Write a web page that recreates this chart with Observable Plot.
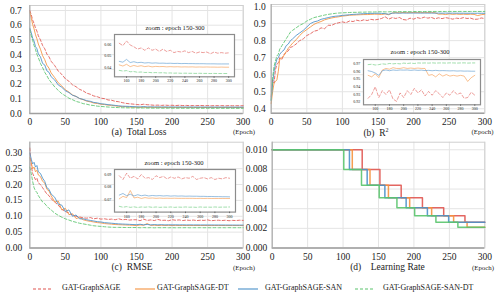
<!DOCTYPE html>
<html><head><meta charset="utf-8">
<script src="https://cdn.jsdelivr.net/npm/d3@7"></script>
<script src="https://cdn.jsdelivr.net/npm/@observablehq/plot@0.6"></script>
<style>
body{margin:0;background:#fff;}
#root{position:relative;width:500px;height:298px;overflow:hidden;font-family:"Liberation Serif","Times New Roman",serif;color:#222;}
.abs{position:absolute;line-height:0;}
.txt{position:absolute;white-space:nowrap;transform:translate(-50%,-50%);line-height:1;}
.ltxt{position:absolute;white-space:nowrap;transform:translate(0,-50%);line-height:1;font-size:8px;}
</style></head><body><div id="root"></div>
<script>
// ---------- data ----------
const epochs = [0,2,4,6,8,10,12,15,18,21,24,27,30,35,40,45,50,55,60,65,70,75,80,85,90,95,100,105,110,115,120,125,130,135,140,145,150,155,160,165,170,175,180,185,190,195,200,205,210,215,220,225,230,235,240,245,250,255,260,265,270,275,280,285,290,295,300];
const seriesNames = ["GAT-GraphSAGE","GAT-GraphSAGE-DT","GAT-GraphSAGE-SAN","GAT-GraphSAGE-SAN-DT"];
const xTicks = [0,50,100,150,200,250,300];
const insetXTicks = [160,180,200,220,240,260,280,300];

// Total loss
const lossRed = [0.700,0.672,0.635,0.612,0.580,0.560,0.528,0.500,0.462,0.440,0.404,0.385,0.355,
0.326,0.288,0.266,0.236,0.219,0.195,0.182,0.164,0.154,0.138,0.131,0.119,0.114,0.104,0.101,0.092,0.090,0.083,0.080,0.074,0.069,0.066,0.064,
0.061,0.059,0.063,0.0595,0.058,0.056,0.057,0.055,0.057,0.055,0.056,0.054,0.056,0.054,0.055,0.053,0.054,0.0535,0.0545,0.053,0.054,0.0525,0.0535,0.053,0.0535,0.052,0.0535,0.0525,0.053,0.0525,0.0528];
const lossOrange = [0.690,0.650,0.605,0.575,0.535,0.508,0.472,0.437,0.393,0.366,0.328,0.308,0.276,
0.244,0.209,0.187,0.161,0.146,0.126,0.116,0.102,0.094,0.084,0.079,0.071,0.068,0.063,0.061,0.057,0.055,0.052,0.049,0.047,0.046,0.044,0.043,
0.0425,0.0415,0.043,0.041,0.042,0.0412,0.0418,0.041,0.0415,0.0408,0.0412,0.041,0.0411,0.0408,0.041,0.0408,0.0409,0.0407,0.0408,0.0407,0.0408,0.0406,0.0407,0.0406,0.0407,0.0406,0.0406,0.0405,0.0406,0.0405,0.0405];
const lossBlue = [0.580,0.550,0.512,0.492,0.455,0.440,0.405,0.385,0.340,0.330,0.290,0.280,0.250,
0.228,0.194,0.178,0.155,0.142,0.124,0.116,0.102,0.096,0.087,0.083,0.075,0.072,0.066,0.064,0.060,0.058,0.055,0.052,0.050,0.049,0.048,0.047,
0.0455,0.0448,0.0472,0.0445,0.0452,0.0444,0.0447,0.0441,0.0444,0.0440,0.0442,0.0439,0.0440,0.0438,0.0439,0.0437,0.0438,0.0436,0.0437,0.0436,0.0436,0.0435,0.0435,0.0435,0.0434,0.0434,0.0434,0.0433,0.0433,0.0433,0.0433];
const lossGreen = [0.570,0.530,0.498,0.462,0.435,0.402,0.380,0.340,0.312,0.280,0.257,0.230,0.212,
0.181,0.157,0.135,0.120,0.104,0.094,0.082,0.076,0.067,0.063,0.057,0.054,0.050,0.048,0.046,0.044,0.0425,0.041,0.040,0.039,0.0386,0.038,0.0378,
0.0378,0.0372,0.0376,0.0366,0.0368,0.0362,0.0364,0.0360,0.0361,0.0358,0.0359,0.0357,0.0358,0.0355,0.0356,0.0354,0.0355,0.0353,0.0354,0.0353,0.0353,0.0352,0.0353,0.0352,0.0352,0.0351,0.0352,0.0351,0.0351,0.0351,0.0351];

// R2
const r2Red = [0.470,0.570,0.550,0.630,0.660,0.670,0.700,0.690,0.720,0.730,0.740,0.760,0.765,
0.780,0.800,0.810,0.830,0.840,0.855,0.860,0.875,0.870,0.890,0.890,0.900,0.905,0.910,0.905,0.915,0.912,0.920,0.915,0.922,0.918,0.925,0.921,
0.925,0.930,0.940,0.926,0.935,0.930,0.936,0.924,0.921,0.932,0.926,0.935,0.930,0.938,0.932,0.936,0.928,0.934,0.929,0.935,0.931,0.926,0.932,0.929,0.935,0.930,0.932,0.925,0.926,0.933,0.929];
const r2Orange = [0.430,0.500,0.550,0.560,0.570,0.620,0.690,0.700,0.712,0.735,0.755,0.770,0.785,
0.805,0.830,0.850,0.865,0.880,0.895,0.905,0.912,0.922,0.928,0.933,0.937,0.940,0.944,0.946,0.949,0.950,0.951,0.952,0.953,0.953,0.954,0.955,
0.955,0.953,0.957,0.952,0.962,0.964,0.963,0.965,0.964,0.964,0.965,0.964,0.9645,0.964,0.9645,0.964,0.964,0.955,0.956,0.953,0.957,0.954,0.956,0.954,0.955,0.954,0.955,0.954,0.947,0.952,0.955];
const r2Blue = [0.450,0.550,0.620,0.660,0.690,0.700,0.720,0.735,0.745,0.770,0.780,0.800,0.810,
0.830,0.845,0.860,0.880,0.900,0.910,0.915,0.925,0.930,0.935,0.940,0.943,0.945,0.948,0.950,0.952,0.954,0.955,0.957,0.958,0.959,0.960,0.960,
0.961,0.960,0.958,0.955,0.961,0.962,0.961,0.962,0.9615,0.962,0.9618,0.962,0.9615,0.962,0.9615,0.9618,0.9612,0.9615,0.961,0.9615,0.961,0.9612,0.961,0.9608,0.961,0.9606,0.9608,0.9605,0.9606,0.9604,0.9604];
const r2Green = [0.450,0.580,0.650,0.680,0.710,0.720,0.750,0.770,0.790,0.810,0.830,0.850,0.860,
0.875,0.890,0.900,0.915,0.925,0.935,0.940,0.945,0.950,0.954,0.957,0.960,0.962,0.963,0.964,0.965,0.966,0.966,0.967,0.967,0.968,0.968,0.968,
0.969,0.9695,0.9685,0.969,0.970,0.9695,0.9705,0.970,0.9705,0.970,0.971,0.9705,0.971,0.9705,0.9712,0.971,0.9712,0.971,0.9713,0.971,0.9712,0.9712,0.971,0.9713,0.9712,0.971,0.9712,0.9713,0.971,0.9712,0.9712];

// RMSE
const rmseRed = [0.315,0.260,0.235,0.225,0.215,0.220,0.205,0.200,0.190,0.180,0.170,0.165,0.155,
0.145,0.135,0.122,0.115,0.110,0.104,0.100,0.098,0.095,0.094,0.096,0.092,0.094,0.091,0.092,0.090,0.091,0.089,0.092,0.089,0.090,0.088,0.089,
0.089,0.086,0.091,0.087,0.0885,0.0865,0.090,0.087,0.0875,0.086,0.089,0.0875,0.0885,0.0865,0.088,0.087,0.088,0.0865,0.0875,0.087,0.0885,0.086,0.087,0.0875,0.0865,0.0875,0.086,0.087,0.0865,0.0875,0.087];
const rmseOrange = [0.285,0.270,0.250,0.255,0.240,0.245,0.230,0.225,0.210,0.205,0.185,0.180,0.165,
0.145,0.148,0.120,0.125,0.105,0.108,0.093,0.096,0.089,0.086,0.084,0.082,0.080,0.079,0.077,0.076,0.075,0.074,0.0735,0.073,0.0725,0.072,0.0715,
0.0705,0.0725,0.0715,0.0772,0.0712,0.0718,0.0708,0.0715,0.071,0.0712,0.0709,0.0711,0.0709,0.071,0.0709,0.071,0.0709,0.0709,0.0709,0.0709,0.0709,0.0708,0.0709,0.0708,0.0709,0.0708,0.0708,0.0708,0.0708,0.0708,0.0708];
const rmseBlue = [0.300,0.280,0.265,0.270,0.255,0.260,0.240,0.235,0.220,0.210,0.190,0.185,0.170,
0.160,0.138,0.135,0.115,0.120,0.100,0.104,0.092,0.092,0.089,0.087,0.085,0.083,0.082,0.080,0.079,0.078,0.077,0.076,0.0755,0.075,0.0745,0.074,
0.0735,0.0748,0.073,0.0742,0.0728,0.0738,0.073,0.0735,0.0728,0.0732,0.0729,0.0731,0.0728,0.073,0.0727,0.0729,0.0727,0.0728,0.0726,0.0727,0.0726,0.0726,0.0725,0.0725,0.0724,0.0724,0.0723,0.0723,0.0722,0.0722,0.0721];
const rmseGreen = [0.255,0.235,0.210,0.190,0.180,0.175,0.165,0.155,0.145,0.140,0.132,0.125,0.120,
0.110,0.103,0.097,0.092,0.088,0.084,0.081,0.078,0.076,0.074,0.072,0.070,0.069,0.068,0.067,0.066,0.0655,0.065,0.065,0.0648,0.0646,0.0645,0.0645,
0.0645,0.0638,0.0643,0.0637,0.0641,0.0636,0.064,0.0638,0.0641,0.0637,0.064,0.0637,0.0639,0.0638,0.064,0.0637,0.0639,0.0638,0.064,0.0638,0.0639,0.0637,0.064,0.0638,0.0639,0.0638,0.064,0.0638,0.0639,0.0639,0.064];

// Learning rate (step changes)
const lrRedEpochs = [0,127,152,182,212,242,272,300];
const lrRedValues = [0.010,0.008,0.0064,0.00512,0.0041,0.00328,0.00262,0.00262];
const lrOrangeEpochs = [0,113,138,164,194,225,256,275,300];
const lrOrangeValues = [0.010,0.008,0.0064,0.00512,0.0041,0.00328,0.00262,0.0021,0.0021];
const lrBlueEpochs = [0,109,134,159,189,219,249,300];
const lrBlueValues = [0.010,0.008,0.0064,0.00512,0.0041,0.00328,0.00262,0.00262];
const lrGreenEpochs = [0,101,126,151,176,201,231,262,300];
const lrGreenValues = [0.010,0.008,0.0064,0.00512,0.0041,0.00328,0.00262,0.0021,0.0021];

// ---------- styling ----------
const colors = ["#e05550","#f5923e","#4a90c9","#5ac46d"];
const dashes = ["3,2",null,null,"3,2"];
const root = document.getElementById("root");

function place(el, left, top){
  const d = document.createElement("div");
  d.className = "abs"; d.style.left = left+"px"; d.style.top = top+"px";
  d.appendChild(el); root.appendChild(d);
}
function text(str, cx, cy, size, cls="txt"){
  const d = document.createElement("div");
  d.className = cls; d.style.left = cx+"px"; d.style.top = cy+"px"; d.style.fontSize = size+"px";
  d.innerHTML = str; root.appendChild(d);
}
function seriesLines(list, from, width){
  return list.map((vals,k)=>{
    const idx = d3.range(from, vals.length);
    return Plot.line(idx, {x: i=>epochs[i], y: i=>vals[i], stroke: colors[k], strokeWidth: width,
      strokeDasharray: dashes[k], strokeOpacity: 0.95});
  });
}
const font = {fontFamily:"Liberation Serif, Times New Roman, serif", color:"#222", background:"transparent", overflow:"visible"};

function mainPanel(o){
  const chart = Plot.plot({
    width:o.w, height:o.h, marginLeft:o.mL, marginRight:o.mR, marginTop:o.mT, marginBottom:o.mB,
    style:{...font, fontSize:"9.5px"},
    x:{domain:[0,300], label:null}, y:{domain:o.yDom, label:null},
    marks:[
      Plot.gridX(xTicks,{stroke:"#e4e4e4", strokeOpacity:1}),
      Plot.gridY(o.yTicks,{stroke:"#e4e4e4", strokeOpacity:1}),
      Plot.frame({stroke:"#cfcfcf"}),
      ...o.lines,
      Plot.ruleX([0],{stroke:"#a8a8a8"}),
      Plot.ruleY([o.yDom[0]],{stroke:"#a0a0a0", strokeWidth:1.6}),
      Plot.axisX(xTicks,{tickSize:0, tickPadding:o.xPad, tickFormat:d=>String(d)}),
      Plot.axisY(o.yTicks,{tickSize:0, tickPadding:o.yPad, tickFormat:o.yFmt})
    ]
  });
  place(chart, o.left, o.top);
}
function inset(o){
  const mL=14, mR=2, mT=1, mB=10;
  const chart = Plot.plot({
    width:o.fw+mL+mR, height:o.fh+mT+mB, marginLeft:mL, marginRight:mR, marginTop:mT, marginBottom:mB,
    style:{...font, fontSize:"4px"},
    x:{domain:[143.5,308], label:null}, y:{domain:o.yDom, label:null},
    marks:[
      Plot.frame({fill:"white", stroke:null}),
      ...seriesLines(o.series, 36, 0.6),
      Plot.frame({stroke:"#8c8c8c", strokeWidth:1.2}),
      Plot.axisX(insetXTicks,{tickSize:1.5, tickPadding:1.2, stroke:"#666"}),
      Plot.axisY(o.yTicks,{tickSize:0, tickPadding:3.2, tickFormat:d3.format(".2f")})
    ]
  });
  place(chart, o.fl-mL, o.ft-mT);
  text("zoom : epoch 150-300", o.tx, o.ty, 6.6);
}

// (a) Total Loss
mainPanel({left:0, top:0, w:250, h:125, mL:29.3, mR:7.3, mT:5, mB:12,
  yDom:[0,0.734], yTicks:[0,0.1,0.2,0.3,0.4,0.5,0.6,0.7], yFmt:d3.format(".1f"), yPad:8, xPad:5,
  lines: seriesLines([lossRed,lossOrange,lossBlue,lossGreen], 0, 0.9)});
inset({fl:114, ft:33.7, fw:120, fh:42.3, yDom:[0.0323,0.0685], yTicks:[0.04,0.05,0.06],
  series:[lossRed,lossOrange,lossBlue,lossGreen], tx:175, ty:27.5});

// (b) R2
mainPanel({left:250, top:0, w:250, h:125, mL:20.7, mR:15.7, mT:4, mB:12.3,
  yDom:[0.374,1.012], yTicks:[0.4,0.5,0.6,0.7,0.8,0.9,1.0], yFmt:d3.format(".1f"), yPad:5.5, xPad:5,
  lines: seriesLines([r2Red,r2Orange,r2Blue,r2Green], 0, 0.9)});
inset({fl:363, ft:58.7, fw:117, fh:45.3, yDom:[0.9165,0.9757], yTicks:[0.92,0.93,0.94,0.95,0.96,0.97],
  series:[r2Red,r2Orange,r2Blue,r2Green], tx:420, ty:52});

// (c) RMSE
mainPanel({left:0, top:140, w:250, h:120, mL:29.3, mR:7.3, mT:1.7, mB:12.5,
  yDom:[0,0.3334], yTicks:[0,0.05,0.1,0.15,0.2,0.25,0.3], yFmt:d3.format(".2f"), yPad:7.6, xPad:5.6,
  lines: seriesLines([rmseRed,rmseOrange,rmseBlue,rmseGreen], 0, 0.9)});
inset({fl:114, ft:168.7, fw:121, fh:42.6, yDom:[0.0599,0.094], yTicks:[0.07,0.08,0.09],
  series:[rmseRed,rmseOrange,rmseBlue,rmseGreen], tx:174, ty:163});

// (d) Learning rate
const lrE = [lrRedEpochs,lrOrangeEpochs,lrBlueEpochs,lrGreenEpochs];
const lrV = [lrRedValues,lrOrangeValues,lrBlueValues,lrGreenValues];
mainPanel({left:250, top:140, w:250, h:120, mL:21.7, mR:15.7, mT:1.7, mB:12.5,
  yDom:[0,0.01077], yTicks:[0,0.002,0.004,0.006,0.008,0.010], yFmt:d3.format(".3f"), yPad:5, xPad:5.6,
  lines: lrE.map((ep,k)=>Plot.line(d3.range(ep.length), {x:i=>ep[i], y:i=>lrV[k][i], curve:"step-after",
    stroke:colors[k], strokeWidth:1.5, strokeOpacity:0.9}))});

// captions
text("(a)&ensp;Total Loss", 139, 133, 9.5);
text("(Epoch)", 244, 132, 6.8);
text("(b)&ensp;R<sup style=\"font-size:6px;vertical-align:4px\">2</sup>", 376, 133, 9.5);
text("(Epoch)", 482.5, 132, 6.8);
text("(c)&ensp;RMSE", 132, 267.5, 9.5);
text("(Epoch)", 244, 267.5, 6.8);
text("(d)&ensp;&ensp;Learning Rate", 387.5, 268, 9.5);
text("(Epoch)", 483, 267.7, 6.8);

// legend
const legX = [[33,62],[135,157],[238,265],[355,383]];
seriesNames.forEach((name,k)=>{
  const svg = d3.create("svg").attr("width",20).attr("height",4);
  svg.append("line").attr("x1",0).attr("x2",20).attr("y1",2).attr("y2",2)
    .attr("stroke",colors[k]).attr("stroke-width",1.1).attr("stroke-dasharray",dashes[k]);
  place(svg.node(), legX[k][0], 285.5);
  text(name, legX[k][1], 287.5, 8, "ltxt");
});
</script></body></html>
